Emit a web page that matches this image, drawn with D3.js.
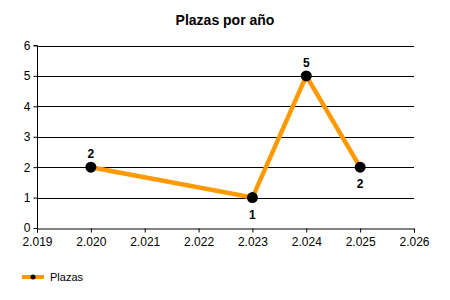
<!DOCTYPE html>
<html><head><meta charset="utf-8">
<script src="https://cdn.jsdelivr.net/npm/d3@7"></script>
<style>body{margin:0;background:#fff}svg{display:block;font-family:"Liberation Sans",Arial,sans-serif}</style>
</head><body><svg id="c" width="450" height="300"></svg>
<script>
const years = [2020, 2023, 2024, 2025];
const plazas = [2, 1, 5, 2];
const labelPos = ["above", "below", "above", "below"];
const xTicks = [2019, 2020, 2021, 2022, 2023, 2024, 2025, 2026];
const yTicks = [0, 1, 2, 3, 4, 5, 6];
const title = "Plazas por año";
const seriesName = "Plazas";

const svg = d3.select("#c");
const x = d3.scaleLinear().domain([2019, 2026]).range([37, 414]);
const y = d3.scaleLinear().domain([0, 6]).range([228, 45.5]);
const fmt = d => d3.format(".3f")(d / 1000);

svg.append("text").attr("x", 225).attr("y", 25).attr("text-anchor", "middle")
  .attr("font-size", 14).attr("font-weight", "bold").text(title);

svg.append("g").selectAll("line").data(yTicks.filter(d => d > 0)).join("line")
  .attr("x1", x(2019)).attr("x2", x(2026)).attr("y1", d => Math.round(y(d)) + 0.5).attr("y2", d => Math.round(y(d)) + 0.5)
  .attr("stroke", "#000").attr("stroke-width", 1);

const yAxis = svg.append("g").attr("transform", `translate(${x(2019) + 0.5},0)`)
  .call(d3.axisLeft(y).tickValues(yTicks).tickSize(4).tickPadding(3).tickFormat(d3.format("d")));
const xAxis = svg.append("g").attr("transform", `translate(0,${Math.round(y(0)) + 0.5})`)
  .call(d3.axisBottom(x).tickValues(xTicks).tickSize(4).tickPadding(5).tickFormat(fmt));
[yAxis, xAxis].forEach(a => {
  a.select(".domain").attr("stroke", "#000");
  a.selectAll(".tick line").attr("stroke", "#000");
  a.selectAll("text").attr("font-size", 12).attr("fill", "#000").attr("font-family", "Liberation Sans, Arial, sans-serif");
});
yAxis.select(".domain").attr("d", `M-4,${y(6)}H0V${y(0)}`);

const data = years.map((d, i) => ({ x: d, y: plazas[i], pos: labelPos[i] }));
svg.append("path").datum(data)
  .attr("d", d3.line().x(d => x(d.x)).y(d => y(d.y)))
  .attr("fill", "none").attr("stroke", "#FF9900").attr("stroke-width", 4.5).attr("stroke-linejoin", "miter");
svg.append("g").selectAll("circle").data(data).join("circle")
  .attr("cx", d => x(d.x)).attr("cy", d => y(d.y)).attr("r", 5.5).attr("fill", "#000");
svg.append("g").selectAll("text").data(data).join("text")
  .attr("x", d => x(d.x)).attr("y", d => y(d.y) + (d.pos === "above" ? -9 : 21))
  .attr("text-anchor", "middle").attr("font-size", 12).attr("font-weight", "bold").text(d => d.y);

const lg = svg.append("g");
lg.append("line").attr("x1", 22).attr("x2", 44).attr("y1", 277).attr("y2", 277).attr("stroke", "#FF9900").attr("stroke-width", 4);
lg.append("circle").attr("cx", 33).attr("cy", 277).attr("r", 2.5).attr("fill", "#000");
lg.append("text").attr("x", 50).attr("y", 281).attr("font-size", 11).text(seriesName);
</script></body></html>
